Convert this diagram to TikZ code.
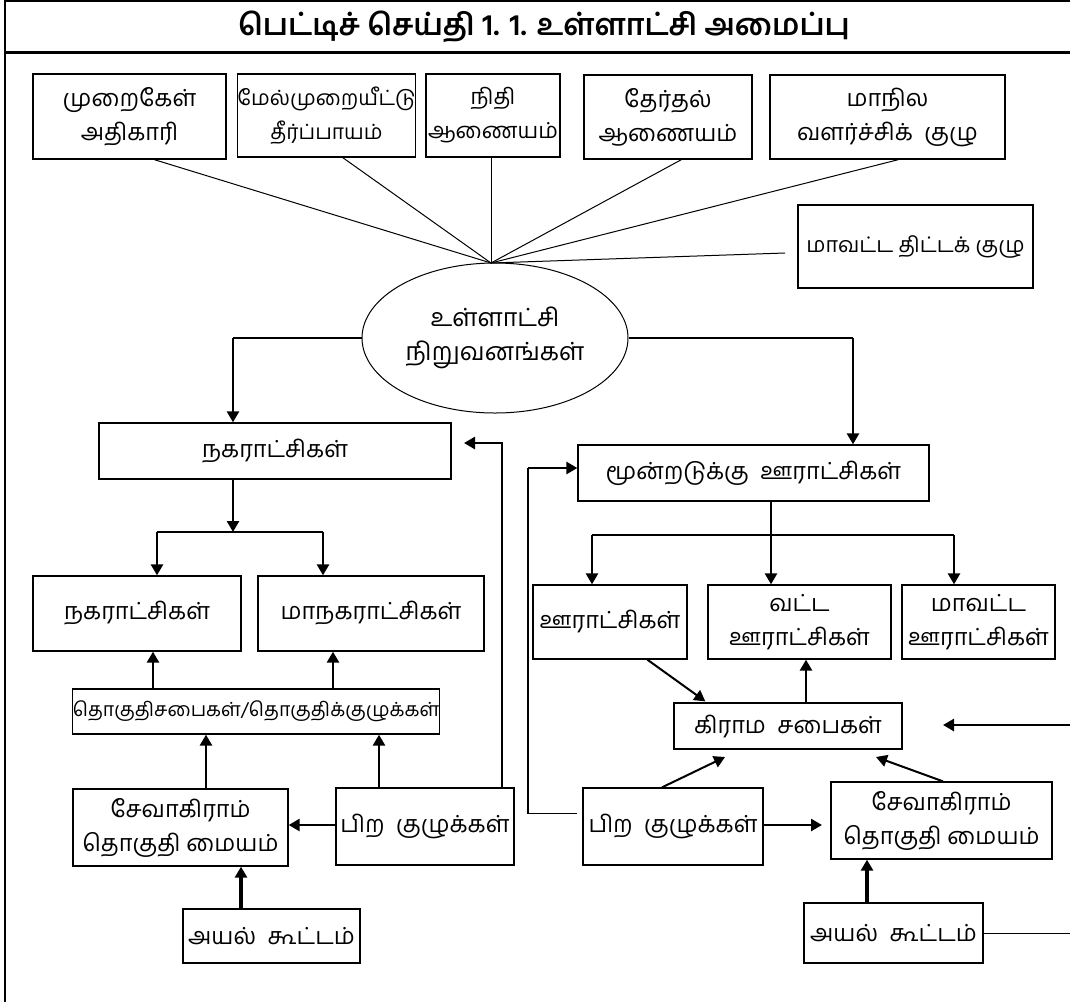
\documentclass[tikz,border=0pt]{standalone}
\usepackage{fontspec}
\newfontfamily\ta[Script=Tamil]{Hind Madurai}
\usetikzlibrary{arrows.meta,calc,shapes.geometric}
\begin{document}
\begin{tikzpicture}[x=1pt,y=-1pt,
  box/.style={draw, line width=1.3pt, inner sep=0pt, align=center,
    font=\ta\fontsize{23.5}{34}\selectfont},
  fs/.style={font=\ta\fontsize{#1}{34}\selectfont},
  fan/.style={line width=1pt},
  thinl/.style={line width=1.2pt},
  thickl/.style={line width=2.6pt},
  tarrow/.style={line width=2.6pt, -{Triangle[length=11pt,width=12pt]}},
  darrow/.style={line width=2pt, -{Triangle[length=11pt,width=12pt]}}]
\useasboundingbox (0,0) rectangle (1070,1002);
\fill[white] (0,0) rectangle (1070,1002);
% frame
\draw[line width=1.5pt] (4,1) -- (1070,1);
\draw[line width=3pt] (4,52) -- (1070,52);
\draw[line width=2.2pt] (5,0) -- (5,1002);
\node[font=\ta\bfseries\fontsize{30}{34}\selectfont] (title) at (544,27) {பெட்டிச் செய்தி 1. 1. உள்ளாட்சி அமைப்பு};
% top boxes
\node[box, minimum width=193pt, minimum height=85pt] (mur) at (129.5,116.5) {முறைகேள்\\அதிகாரி};
\node[box, fs=21, minimum width=171pt, minimum height=83pt] (mel) at (326.5,115.5) {மேல்முறையீட்டு\\தீர்ப்பாயம்};
\node[box, fs=22, minimum width=134pt, minimum height=83pt] (nidhi) at (493,115.5) {நிதி\\ஆணையம்};
\node[box, minimum width=168pt, minimum height=84pt] (ther) at (668,117) {தேர்தல்\\ஆணையம்};
\node[box, minimum width=235pt, minimum height=84pt] (maanila) at (887.5,117) {மாநில\\வளர்ச்சிக்~ குழு};
\node[box, fs=21.5, minimum width=235pt, minimum height=83pt] (thittam) at (915.5,246.5) {மாவட்ட திட்டக் குழு};
% ellipse
\node[box, ellipse, fs=25, line width=1pt, minimum width=266pt, minimum height=150pt] (ell) at (495,338) {உள்ளாட்சி\\நிறுவனங்கள்};
% fan lines
\coordinate (hub) at (491,263);
\coordinate (tend) at (785,253);
\draw[fan] (hub) -- ($(mur.south west)+(122,0)$);
\draw[fan] (hub) -- ($(mel.south west)+(106,0)$);
\draw[fan] (hub) -- (hub |- nidhi.south);
\draw[fan] (hub) -- ($(ther.south west)+(98,0)$);
\draw[fan] (hub) -- ($(maanila.south west)+(129,0)$);
\draw[fan] (hub) -- (tend);
% left column
\node[box, minimum width=352pt, minimum height=56pt] (nag1) at (275,451) {நகராட்சிகள்};
\node[box, minimum width=208pt, minimum height=75pt] (nag2) at (137,613.5) {நகராட்சிகள்};
\node[box, minimum width=226pt, minimum height=75pt] (maanag) at (371,613.5) {மாநகராட்சிகள்};
\node[box, fs=19.5, minimum width=366pt, minimum height=45pt] (thoguthi) at (256,711.5) {தொகுதிசபைகள்/தொகுதிக்குழுக்கள்};
\node[box, minimum width=215pt, minimum height=77pt] (seva1) at (180.5,827.5) {சேவாகிராம்\\தொகுதி மையம்};
\node[box, minimum width=178pt, minimum height=77pt] (pira1) at (425,826.5) {பிற~ குழுக்கள்};
\node[box, minimum width=177pt, minimum height=54pt] (ayal1) at (271.5,936) {அயல்~ கூட்டம்};
% right column
\node[box, minimum width=351pt, minimum height=56pt] (moon) at (753.5,473) {மூன்றடுக்கு~ ஊராட்சிகள்};
\node[box, minimum width=154pt, minimum height=74pt] (oor) at (610,622) {\raisebox{5pt}{ஊராட்சிகள்}};
\node[box, minimum width=183pt, minimum height=74pt] (vatta) at (799.5,622) {வட்ட\\ஊராட்சிகள்};
\node[box, minimum width=153pt, minimum height=74pt] (maavatta) at (978.5,622) {மாவட்ட\\ஊராட்சிகள்};
\node[box, minimum width=228pt, minimum height=46pt] (grama) at (788,726) {கிராம~ சபைகள்};
\node[box, minimum width=180pt, minimum height=77pt] (pira2) at (673,826.5) {பிற~ குழுக்கள்};
\node[box, minimum width=221pt, minimum height=77pt] (seva2) at (941.5,820.5) {சேவாகிராம்\\தொகுதி மையம்};
\node[box, minimum width=179pt, minimum height=60pt] (ayal2) at (893.5,933) {அயல்~ கூட்டம்};
% ellipse outputs
\coordinate (lc) at (233,338);
\coordinate (rc) at (853,338);
\draw[thinl] (ell.west) -- (lc);
\draw[tarrow] (lc) -- (lc |- nag1.north);
\draw[thinl] (ell.east) -- (rc);
\draw[tarrow] (rc) -- (rc |- moon.north);
% left column connectors
\coordinate (lj) at (233,532);
\coordinate (lja) at (157,532);
\coordinate (ljb) at (323,532);
\draw[tarrow] (lj |- nag1.south) -- (lj);
\draw[thickl] (lja) -- (ljb);
\draw[tarrow] (lja) -- (lja |- nag2.north);
\draw[tarrow] (ljb) -- (ljb |- maanag.north);
\draw[tarrow] (153,0 |- thoguthi.north) -- (153,0 |- nag2.south);
\draw[tarrow] (333,0 |- thoguthi.north) -- (333,0 |- maanag.south);
\draw[tarrow] (206,0 |- seva1.north) -- (206,0 |- thoguthi.south);
\draw[tarrow] (379,0 |- pira1.north) -- (379,0 |- thoguthi.south);
\draw[tarrow] (pira1.west |- 0,825) -- (seva1.east |- 0,825);
\draw[line width=3.2pt, -{Triangle[length=11pt,width=12pt]}] (241,0 |- ayal1.north) -- (241,0 |- seva1.south);
\coordinate (nagin) at (464,443);
\draw[tarrow] (502,0 |- pira1.north) |- (nagin);
% right column connectors
\coordinate (rl) at (528,468);
\draw[thinl] ($(pira2.west)+(-5,-13)$) -| (rl);
\draw[tarrow] (rl) -- (rl -| moon.west);
\coordinate (rj) at (771,535);
\coordinate (rja) at (592,535);
\coordinate (rjb) at (954,535);
\draw[thinl] (rj |- moon.south) -- (rj);
\draw[thickl] (rja) -- (rjb);
\draw[tarrow] (rj) -- (rj |- vatta.north);
\draw[tarrow] (rja) -- (rja |- oor.north);
\draw[tarrow] (rjb) -- (rjb |- maavatta.north);
\draw[darrow] ($(oor.south west)+(115,0)$) -- ($(grama.north west)+(32,-1)$);
\draw[tarrow] (806,0 |- grama.north) -- (806,0 |- vatta.south);
\coordinate (rin) at (1070,725);
\coordinate (rtip) at (943,725);
\draw[tarrow] (rin) -- (rtip);
\coordinate (gb1) at (725,757);
\coordinate (gb2) at (876,757);
\draw[darrow] (662,0 |- pira2.north) -- (gb1);
\draw[darrow] (943,0 |- seva2.north) -- (gb2);
\coordinate (sv) at (822,825);
\draw[tarrow] (pira2.east |- sv) -- (sv);
\draw[line width=3.2pt, -{Triangle[length=11pt,width=12pt]}] (867,0 |- ayal2.north) -- (867,0 |- seva2.south);
\coordinate (aend) at (1070,933);
\draw[fan] (ayal2.east |- aend) -- (aend);
\end{tikzpicture}
\end{document}
